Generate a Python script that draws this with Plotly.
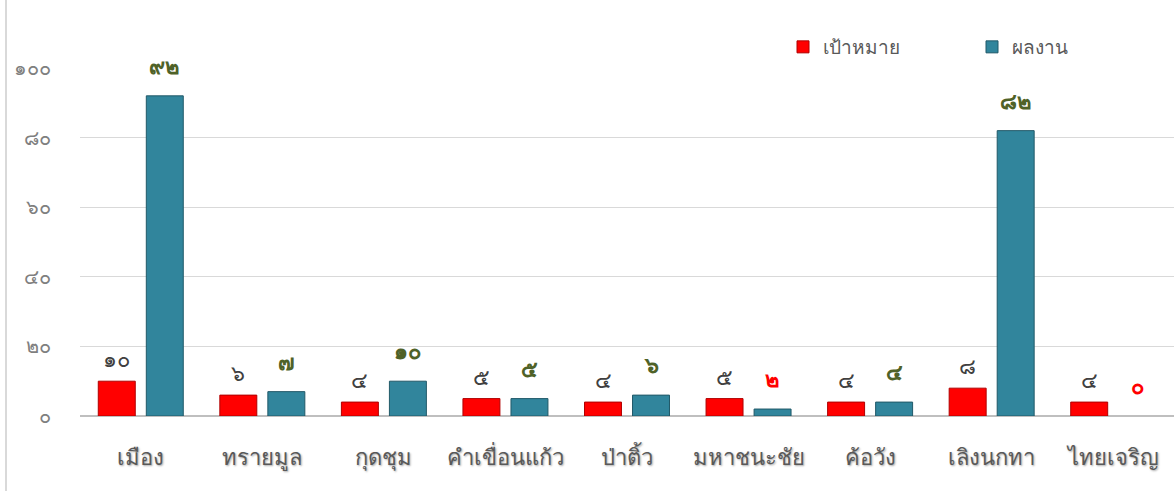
import plotly.graph_objects as go

# District names (x categories)
districts = ["เมือง", "ทรายมูล", "กุดชุม", "คำเขื่อนแก้ว", "ป่าติ้ว",
             "มหาชนะชัย", "ค้อวัง", "เลิงนกทา", "ไทยเจริญ"]
# Series values
target = [10, 6, 4, 5, 4, 5, 4, 8, 4]
result = [92, 7, 10, 5, 6, 2, 4, 82, 0]
series_names = ["เป้าหมาย", "ผลงาน"]
# Y axis ticks
y_ticks = [0, 20, 40, 60, 80, 100]

THAI_DIGITS = "๐๑๒๓๔๕๖๗๘๙"


def thai_num(n):
    return "".join(THAI_DIGITS[int(c)] for c in str(n))


FONT = "Tahoma, 'Noto Sans', 'DejaVu Sans', sans-serif"
W, H = 1174, 491
ML, MR, MT, MB = 80, 0, 68, 75

fig = go.Figure()
fig.add_trace(go.Bar(
    x=districts, y=target, name=series_names[0],
    marker=dict(color="#FF0000",
                line=dict(color="#B00000", width=[1 if v else 0 for v in target])),
))
fig.add_trace(go.Bar(
    x=districts, y=result, name=series_names[1],
    marker=dict(color="#31859C",
                line=dict(color="#215968", width=[1 if v else 0 for v in result])),
))

annotations = []
for d, t, r in zip(districts, target, result):
    annotations.append(dict(
        x=d, y=t, xref="x", yref="y", text=thai_num(t), showarrow=False,
        xshift=-24, yshift=23,
        font=dict(family=FONT, size=22, color="#404040"),
    ))
    annotations.append(dict(
        x=d, y=r, xref="x", yref="y", text="<b>" + thai_num(r) + "</b>",
        showarrow=False, xshift=24, yshift=31,
        font=dict(family=FONT, size=22,
                  color="#FF0000" if r < t else "#4F6228"),
    ))

pw = W - ML - MR
ph = H - MT - MB
# light frame around the chart area
frame = dict(
    type="rect", xref="paper", yref="paper",
    x0=(6 - ML) / pw, x1=(W + 10 - ML) / pw,
    y0=-(H + 10 - MT - ph) / ph, y1=(H - MT - 3) / ph,
    line=dict(color="#D9D9D9", width=2), fillcolor="rgba(0,0,0,0)",
    layer="below",
)

fig.update_layout(
    width=W, height=H,
    margin=dict(l=ML, r=MR, t=MT, b=MB, autoexpand=False),
    paper_bgcolor="white", plot_bgcolor="white",
    barmode="group", bargap=0.21, bargroupgap=0.23,
    font=dict(family=FONT, color="#595959"),
    legend=dict(
        orientation="h", x=(783 - ML) / pw, y=(H - MB - 47) / ph,
        xanchor="left", yanchor="middle",
        font=dict(size=19, color="#595959"), itemwidth=30,
        entrywidth=144, entrywidthmode="pixels",
    ),
    xaxis=dict(
        showgrid=False, showline=False, ticks="",
        tickfont=dict(size=22, color="#595959",
                      shadow="1px 1px 2px rgba(0,0,0,0.35)"),
        ticklabelstandoff=26,
    ),
    yaxis=dict(
        range=[0, 100], tickvals=y_ticks,
        ticktext=[thai_num(v) for v in y_ticks],
        showgrid=True, gridcolor="#D9D9D9", gridwidth=1,
        zeroline=True, zerolinecolor="#BFBFBF", zerolinewidth=2,
        tickfont=dict(size=20, color="#7F7F7F"),
        ticks="", ticklabelstandoff=28,
    ),
    annotations=annotations,
    shapes=[frame],
)

fig.write_html("out.html")
